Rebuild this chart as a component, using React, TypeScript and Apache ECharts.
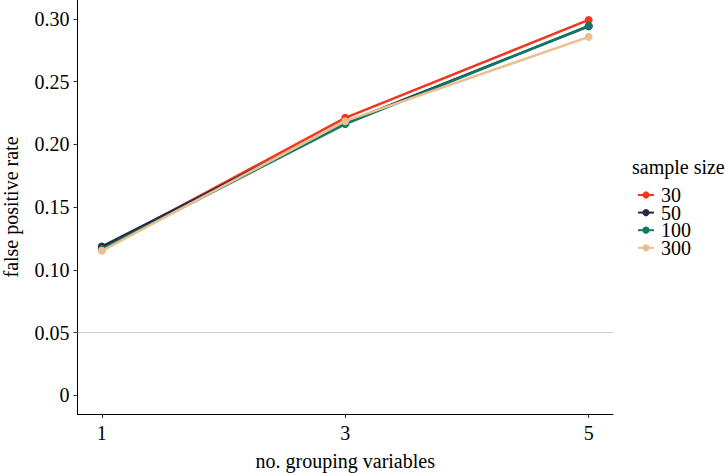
import React, { useEffect, useRef } from "react";
import * as echarts from "echarts";

const groupingVars = [1, 3, 5];
const sampleSizes = ["30", "50", "100", "300"];
const fpr30 = [0.117, 0.2212, 0.2992];
const fpr50 = [0.1186, 0.2172, 0.2942];
const fpr100 = [0.1165, 0.2162, 0.2945];
const fpr300 = [0.1152, 0.2185, 0.2857];
const seriesValues = [fpr30, fpr50, fpr100, fpr300];
const colors = ["#F2361D", "#2D2748", "#0D7A62", "#EABF91"];
const xTicks = [1, 3, 5];
const yTicks = [0, 0.05, 0.1, 0.15, 0.2, 0.25, 0.3];
const refLine = 0.05;

const FONT = "Liberation Serif";

export default function App() {
  const ref = useRef<HTMLDivElement>(null);
  useEffect(() => {
    if (!ref.current) return;
    const chart = echarts.init(ref.current, null, { renderer: "svg" });
    const series: any[] = sampleSizes.map((name, i) => ({
      name,
      type: "line",
      data: groupingVars.map((x, j) => [x, seriesValues[i][j]]),
      symbol: "circle",
      symbolSize: 8,
      lineStyle: { width: 2.5, color: colors[i] },
      itemStyle: { color: colors[i] },
      z: 3 + i,
    }));
    series[0].markLine = {
      silent: true,
      symbol: "none",
      label: { show: false },
      lineStyle: { color: "#c8c8c8", width: 1, type: "solid" },
      data: [{ yAxis: refLine }],
      z: 1,
    };
    chart.setOption({
      animation: false,
      textStyle: { fontFamily: FONT },
      grid: { left: 77.5, right: 112, top: 0, bottom: 59, containLabel: false, outerBoundsMode: "none" },
      xAxis: {
        type: "value",
        min: 0.8,
        max: 5.2,
        name: "no. grouping variables",
        nameLocation: "middle",
        nameGap: 37,
        nameTextStyle: { fontSize: 20, color: "#000", fontFamily: FONT },
        splitLine: { show: false },
        axisLine: { onZero: false, lineStyle: { color: "#000", width: 1 } },
        axisTick: { length: 4, lineStyle: { color: "#333" }, customValues: xTicks },
        axisLabel: { fontSize: 20, color: "#000", fontFamily: FONT, margin: 9, customValues: xTicks },
      },
      yAxis: {
        type: "value",
        min: -0.0149,
        max: 0.3151,
        name: "false positive rate",
        nameLocation: "middle",
        nameGap: 57,
        nameTextStyle: { fontSize: 20, color: "#000", fontFamily: FONT },
        splitLine: { show: false },
        axisLine: { show: true, onZero: false, lineStyle: { color: "#000", width: 1 } },
        axisTick: { show: true, length: 4, lineStyle: { color: "#333" }, customValues: yTicks },
        axisLabel: {
          fontSize: 20,
          color: "#000",
          fontFamily: FONT,
          margin: 8,
          customValues: yTicks,
          formatter: (v: number) => (v === 0 ? "0" : v.toFixed(2)),
        },
      },
      legend: {
        orient: "vertical",
        left: 632,
        top: 180,
        itemWidth: 16,
        itemHeight: 9,
        itemGap: -2.4,
        data: sampleSizes,
        textStyle: { fontSize: 20, color: "#000", fontFamily: FONT, lineHeight: 17.6, padding: [0, 0, 0, 2] },
      },
      graphic: [
        {
          type: "text",
          left: 632,
          top: 157,
          style: { text: "sample size", fontSize: 20, fontFamily: FONT, fill: "#000" },
        },
      ],
      series,
    });
    return () => chart.dispose();
  }, []);
  return (
    <div
      ref={ref}
      style={{ position: "fixed", left: 0, top: 0, width: 725, height: 473, background: "#fff" }}
    />
  );
}
